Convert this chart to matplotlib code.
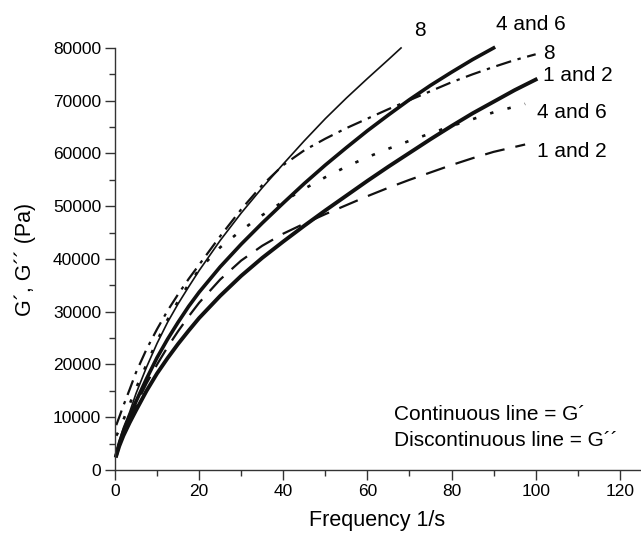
import numpy as np
import matplotlib.pyplot as plt
from matplotlib.ticker import MultipleLocator

plt.rcParams['font.family'] = ['Liberation Sans', 'DejaVu Sans']

# G' (continuous lines)
f_g1_8 = [0.3, 1, 2, 3.5, 5, 7.5, 10, 12.5, 15, 17.5, 20, 25, 30, 35, 40, 45, 50, 55, 60, 65, 68]
g1_8 = [2900, 5500, 8000, 11000, 14500, 19500, 24000, 28000, 31500, 34700, 37800, 43500, 48700,
        53500, 58000, 62400, 66600, 70500, 74200, 77800, 80000]

f_g1_46 = [0.3, 1, 2, 3.5, 5, 7.5, 10, 12.5, 15, 17.5, 20, 25, 30, 35, 40, 45, 50, 55, 60, 65,
           70, 75, 80, 85, 90]
g1_46 = [2800, 5000, 7300, 10200, 13000, 17300, 21300, 24800, 28000, 31000, 33700, 38500, 42800,
         46800, 50600, 54300, 57800, 61100, 64300, 67300, 70200, 72900, 75400, 77800, 80000]

f_g1_12 = [0.3, 1, 2, 3.5, 5, 7.5, 10, 12.5, 15, 17.5, 20, 25, 30, 35, 40, 45, 50, 55, 60, 65,
           70, 75, 80, 85, 90, 95, 100]
g1_12 = [2700, 4500, 6500, 9000, 11300, 15000, 18300, 21200, 23900, 26400, 28800, 33000, 36800,
         40200, 43300, 46300, 49200, 52000, 54800, 57500, 60100, 62700, 65200, 67600, 69800,
         72000, 74000]

# G'' (discontinuous lines)
f_g2_8 = [0.3, 1, 2, 3.5, 5, 7.5, 10, 12.5, 15, 17.5, 20, 25, 30, 35, 40, 45, 50, 55, 60, 65,
          70, 75, 80, 85, 90, 95, 100]
g2_8 = [8500, 10000, 12200, 15300, 18500, 22900, 26700, 30200, 33300, 36200, 38900, 44300, 49400,
        54000, 57800, 60600, 62800, 64800, 66600, 68400, 70100, 71800, 73500, 75000, 76400,
        77700, 78800]

f_g2_46 = [0.3, 1, 2, 3.5, 5, 7.5, 10, 12.5, 15, 17.5, 20, 25, 30, 35, 40, 45, 50, 55, 60, 65,
           70, 75, 80, 85, 90, 97.5]
g2_46 = [6500, 7500, 9500, 12500, 15500, 20000, 24500, 28500, 32000, 35200, 38000, 42200, 45400,
         48300, 50900, 53300, 55500, 57500, 59300, 60900, 62400, 63800, 65200, 66500, 67800, 69400]

f_g2_12 = [0.3, 1, 2, 3.5, 5, 7.5, 10, 12.5, 15, 17.5, 20, 25, 30, 35, 40, 45, 50, 55, 60, 65,
           70, 75, 80, 85, 90, 97.5]
g2_12 = [3500, 5000, 7000, 9700, 12300, 16400, 20000, 23300, 26300, 29100, 31700, 36100, 39700,
         42500, 44800, 46700, 48500, 50200, 51900, 53500, 55000, 56400, 57800, 59100, 60300, 61700]

fig = plt.figure(figsize=(6.41, 5.34), dpi=100)
ax = fig.add_axes([0.1794, 0.1199, 0.8190, 0.7903])

c = '#111111'
ax.plot(f_g1_8, g1_8, color=c, lw=1.2, clip_on=False)
ax.plot(f_g1_46, g1_46, color=c, lw=2.6, clip_on=False)
ax.plot(f_g1_12, g1_12, color=c, lw=2.8, clip_on=False)
ax.plot(f_g2_8, g2_8, color=c, lw=1.6, dashes=(7, 3, 1.5, 3), clip_on=False)
ax.plot(f_g2_46, g2_46, color=c, lw=1.9, dashes=(1.3, 5.5), clip_on=False)
ax.plot(f_g2_12, g2_12, color=c, lw=1.6, dashes=(9, 5), clip_on=False)

fs = 15
ax.text(72.4, 83300, '8', fontsize=fs, ha='center', va='center')
ax.text(90.5, 84500, '4 and 6', fontsize=fs, ha='left', va='center')
ax.text(101.8, 79000, '8', fontsize=fs, ha='left', va='center')
ax.text(101.8, 74800, '1 and 2', fontsize=fs, ha='left', va='center')
ax.text(100.3, 67800, '4 and 6', fontsize=fs, ha='left', va='center')
ax.text(100.3, 60400, '1 and 2', fontsize=fs, ha='left', va='center')
ax.text(66.4, 10500, 'Continuous line = G\u00b4', fontsize=fs, ha='left', va='center')
ax.text(66.4, 5500, 'Discontinuous line = G\u00b4\u00b4', fontsize=fs, ha='left', va='center')

ax.set_xlim(0, 124.8)
ax.set_ylim(0, 80000)
ax.xaxis.set_major_locator(MultipleLocator(20))
ax.xaxis.set_minor_locator(MultipleLocator(10))
ax.yaxis.set_major_locator(MultipleLocator(10000))
ax.yaxis.set_minor_locator(MultipleLocator(5000))
ax.spines['top'].set_visible(False)
ax.spines['right'].set_visible(False)
for s in ['left', 'bottom']:
    ax.spines[s].set_color('#333333')
    ax.spines[s].set_linewidth(1.0)
ax.tick_params(which='major', length=7, width=1.0, color='#333333', labelsize=12.5, pad=3)
ax.tick_params(which='minor', length=4, width=1.0, color='#333333')
ax.set_xlabel('Frequency 1/s', fontsize=15.5, labelpad=8)
ax.set_ylabel('G\u00b4, G\u00b4\u00b4 (Pa)', fontsize=15.5, labelpad=12)

fig.savefig('out.png', dpi=100)
